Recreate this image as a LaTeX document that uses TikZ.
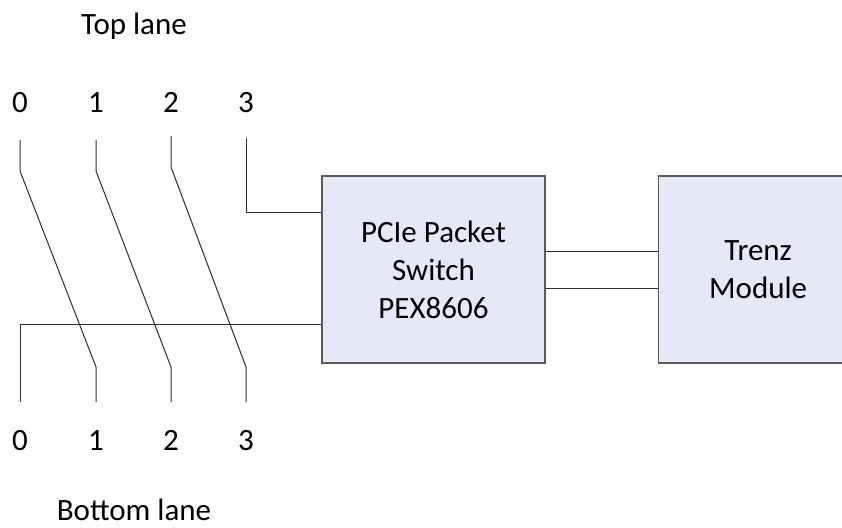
\documentclass[tikz,border=0pt]{standalone}
\usepackage{fontspec}
\setmainfont{Carlito}
\usetikzlibrary{positioning, calc}
\definecolor{boxfill}{HTML}{E4EAF5}
\definecolor{boxline}{HTML}{5A5A5A}
\definecolor{wiregray}{HTML}{2E2E2E}

\begin{document}
\begin{tikzpicture}[
    x=1pt, y=-1pt,
    every node/.style={font=\fontsize{31}{38}\selectfont},
    block/.style={
        draw=boxline, fill=boxfill, line width=1.2pt,
        minimum width=#1, minimum height=187pt, align=center, inner sep=0pt
    },
    block/.default=223pt,
    lane/.style={draw=wiregray, line width=1pt},
    digit/.style={inner sep=0pt, anchor=base},
]
\useasboundingbox (0,0) rectangle (842,527);

% === Lane titles ===
\node[anchor=base] (toplbl) at (134,35) {Top lane};
\node[anchor=base] (botlbl) at (134,520) {Bottom lane};

% === Lane numbers and wire ends ===
\foreach \i/\x/\y in {0/20/140, 1/96/140, 2/171/136, 3/246/138} {
    \node[digit] (t\i) at (\x,112) {\i};
    \node[digit] (b\i) at (\x,450) {\i};
    \coordinate (ta\i) at (\x,\y);
    \coordinate (ba\i) at (\x,402);
}

% === PCIe Switch ===
\node[block] (pcie) at (433.5,269.5) {PCIe Packet\\Switch\\PEX8606};

% === Trenz Module ===
\node[block=200pt, right=112pt of pcie] (trenz) {Trenz\\Module};

% ===== WIRES =====

% Top lanes 0..2 -> bottom lanes 1..3
\foreach \i/\j in {0/1, 1/2, 2/3}
    \draw[lane] (ta\i) -- ++(0,31) -- ($(ba\j)+(0,-35)$) -- (ba\j);

% Top lane 3 -> switch
\draw[lane] (ta3) |- ($(pcie.north west)+(0,37)$);

% Bottom lane 0 -> switch
\draw[lane] (ba0) |- ($(pcie.south west)+(0,-39)$);

% Switch <-> Trenz
\draw[lane] ($(pcie.east)+(0,-18.5)$) -- ($(trenz.west)+(0,-18.5)$);
\draw[lane] ($(pcie.east)+(0,18.5)$) -- ($(trenz.west)+(0,18.5)$);

\end{tikzpicture}
\end{document}
